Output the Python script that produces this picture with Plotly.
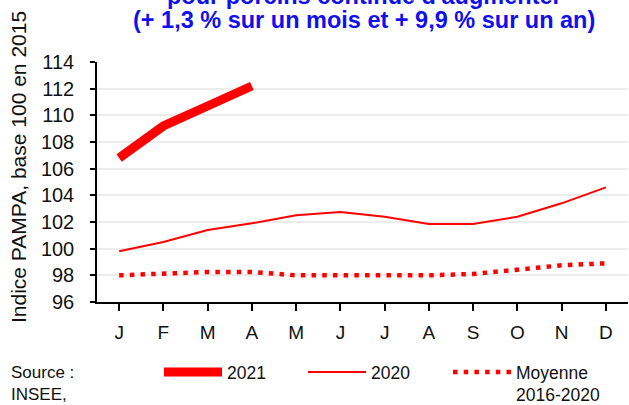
import plotly.graph_objects as go

months = ["J", "F", "M", "A", "M", "J", "J", "A", "S", "O", "N", "D"]
x_pos = list(range(12))
y2021 = [106.8, 109.2, 110.7, 112.2]
y2020 = [99.8, 100.5, 101.4, 101.9, 102.5, 102.75, 102.4, 101.85, 101.85, 102.4, 103.4, 104.6]
ymoy = [98.0, 98.1, 98.25, 98.25, 98.0, 98.0, 98.0, 98.0, 98.1, 98.4, 98.75, 98.9]
yticks = [96, 98, 100, 102, 104, 106, 108, 110, 112, 114]
title_lines = ["pour porcins continue d'augmenter", "(+ 1,3 % sur un mois et + 9,9 % sur un an)"]

RED = "#ff0000"
FONT = "Liberation Sans, Arial, sans-serif"
L, R, T, B = 97, 1, 62, 103
PW, PH = 629 - L - R, 405 - T - B


def px_x(p):
    return (p - L) / PW


def px_y(p):
    return (405 - B - p) / PH


fig = go.Figure()
fig.add_trace(go.Scatter(x=x_pos[:len(y2021)], y=y2021, mode="lines", name="2021",
                         line=dict(color=RED, width=9), legend="legend"))
fig.add_trace(go.Scatter(x=x_pos, y=y2020, mode="lines", name="2020",
                         line=dict(color=RED, width=2), legend="legend2"))
fig.add_trace(go.Scatter(x=x_pos, y=ymoy, mode="lines", name="Moyenne<br>2016-2020",
                         line=dict(color=RED, width=4.5, dash="4.5px,6.2px"), legend="legend3"))

leg_common = dict(yanchor="top", y=px_y(354), xanchor="left", itemwidth=58, valign="top",
                  font=dict(family=FONT, size=17.5, color="#111111"),
                  bgcolor="rgba(0,0,0,0)", orientation="h")

fig.update_layout(
    width=629, height=405,
    margin=dict(l=L, r=R, t=T, b=B, autoexpand=False),
    paper_bgcolor="white", plot_bgcolor="white",
    font=dict(family=FONT, size=19, color="#111111"),
    showlegend=True,
    legend=dict(x=px_x(159), **leg_common),
    legend2=dict(x=px_x(303), **leg_common),
    legend3=dict(x=px_x(448), **leg_common),
    xaxis=dict(tickmode="array", tickvals=x_pos, ticktext=months,
               range=[-0.5, 11.5], showgrid=False, zeroline=False,
               showline=True, linecolor="black", linewidth=1.5,
               ticks="outside", tickson="boundaries", ticklen=7, tickcolor="black", tickwidth=1.5,
               ticklabelstandoff=5,
               tickfont=dict(family=FONT, size=19, color="#111111"), automargin=False),
    yaxis=dict(range=[96, 114], tickvals=yticks, showgrid=True, gridcolor="#ececec", gridwidth=2,
               zeroline=False, showline=True, linecolor="black", linewidth=1.5,
               ticks="outside", ticklen=5, tickcolor="black", tickwidth=1.5,
               ticklabelstandoff=12, automargin=False,
               tickfont=dict(family=FONT, size=20, color="#111111")),
)

# title (first line partly cut by the top edge, as in the reference)
for line, cy in zip(title_lines, [-4, 20]):
    fig.add_annotation(text="<b>" + line + "</b>",
                       xref="paper", yref="paper", x=px_x(364), y=px_y(cy),
                       xanchor="center", yanchor="middle", showarrow=False, align="center",
                       font=dict(family=FONT, size=23.5, color="#1010ee"))

# y-axis title
fig.add_annotation(text="Indice PAMPA, base 100 en 2015", textangle=-90,
                   xref="paper", yref="paper", x=px_x(18), y=px_y(167),
                   xanchor="center", yanchor="middle", showarrow=False,
                   font=dict(family=FONT, size=21, color="#111111"))

fig.add_annotation(text="Source :<br>INSEE,", xref="paper", yref="paper",
                   x=px_x(9), y=px_y(361), xanchor="left", yanchor="top",
                   showarrow=False, align="left",
                   font=dict(family=FONT, size=17, color="#111111"))

fig.write_html("out.html", config={"displayModeBar": False},
               post_script="document.body.style.margin='0px';")
